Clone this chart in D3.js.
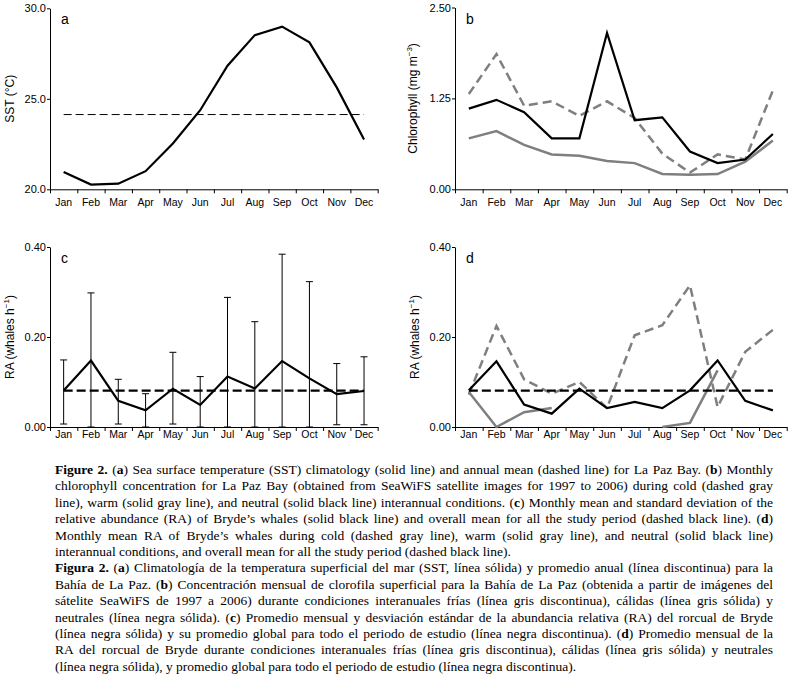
<!DOCTYPE html>
<html>
<head>
<meta charset="utf-8">
<script src="https://cdn.jsdelivr.net/npm/d3@7"></script>
<style>
  html, body { margin: 0; padding: 0; background: #fff; }
  svg { display: block; }
  .axis text { font-family: "Liberation Sans", Arial, sans-serif; fill: #000; }
  .axis path, .axis line { stroke: #000; stroke-width: 1; }
</style>
</head>
<body>
<svg id="chart" width="791" height="683"></svg>
<script>
// ---------------- data ----------------
const months = ["Jan","Feb","Mar","Apr","May","Jun","Jul","Aug","Sep","Oct","Nov","Dec"];

// (a) SST climatology (°C)
const sst = [20.96, 20.26, 20.31, 21.00, 22.53, 24.37, 26.83, 28.52, 28.99, 28.12, 25.63, 22.75];
const sstMean = 24.13;
const sstTicks = [20, 25, 30];

// (b) Chlorophyll (mg m-3)
const chlNeutral = [1.11, 1.23, 1.06, 0.70, 0.70, 2.15, 0.95, 0.99, 0.52, 0.36, 0.41, 0.76];
const chlCold    = [1.31, 1.86, 1.15, 1.21, 1.01, 1.21, 0.98, 0.49, 0.23, 0.48, 0.41, 1.36];
const chlWarm    = [0.70, 0.80, 0.61, 0.48, 0.46, 0.39, 0.36, 0.21, 0.20, 0.21, 0.38, 0.67];
const chlTicks = [0, 1.25, 2.5];

// (c) RA mean and SD range
const raMean  = [0.081, 0.1475, 0.058, 0.037, 0.085, 0.049, 0.112, 0.0855, 0.1465, 0.108, 0.073, 0.080];
const raUpper = [0.149, 0.298, 0.106, 0.074, 0.166, 0.112, 0.288, 0.234, 0.384, 0.323, 0.141, 0.156];
const raLower = [0.0066, 0, 0.0066, 0, 0.0066, 0, 0, 0, 0, 0, 0.005, 0.005];
const raOverall = 0.081;
const raTicks = [0, 0.2, 0.4];

// (d) RA by interannual condition
const raCold    = [0.072, 0.2245, 0.106, 0.074, 0.100, 0.042, 0.204, 0.226, 0.315, 0.0445, 0.167, 0.216];
const raWarm    = [0.078, 0.000, 0.033, 0.042, null, null, null, 0.000, 0.009, 0.126, null, null];
const raNeutral = [0.0815, 0.146, 0.0497, 0.0297, 0.0853, 0.042, 0.0556, 0.042, 0.0815, 0.148, 0.058, 0.037];

// caption lines (**bold**)
const captionEn = [
  "**Figure 2.** (**a**) Sea surface temperature (SST) climatology (solid line) and annual mean (dashed line) for La Paz Bay. (**b**) Monthly",
  "chlorophyll concentration for La Paz Bay (obtained from SeaWiFS satellite images for 1997 to 2006) during cold (dashed gray",
  "line), warm (solid gray line), and neutral (solid black line) interannual conditions. (**c**) Monthly mean and standard deviation of the",
  "relative abundance (RA) of Bryde’s whales (solid black line) and overall mean for all the study period (dashed black line). (**d**)",
  "Monthly mean RA of Bryde’s whales during cold (dashed gray line), warm (solid gray line), and neutral (solid black line)",
  "interannual conditions, and overall mean for all the study period (dashed black line)."
];
const captionEs = [
  "**Figura 2.** (**a**) Climatología de la temperatura superficial del mar (SST, línea sólida) y promedio anual (línea discontinua) para la",
  "Bahía de La Paz. (**b**) Concentración mensual de clorofila superficial para la Bahía de La Paz (obtenida a partir de imágenes del",
  "sátelite SeaWiFS de 1997 a 2006) durante condiciones interanuales frías (línea gris discontinua), cálidas (línea gris sólida) y",
  "neutrales (línea negra sólida). (**c**) Promedio mensual y desviación estándar de la abundancia relativa (RA) del rorcual de Bryde",
  "(línea negra sólida) y su promedio global para todo el periodo de estudio (línea negra discontinua). (**d**) Promedio mensual de la",
  "RA del rorcual de Bryde durante condiciones interanuales frías (línea gris discontinua), cálidas (línea gris sólida) y neutrales",
  "(línea negra sólida), y promedio global para todo el periodo de estudio (línea negra discontinua)."
];

// ---------------- drawing ----------------
const svg = d3.select("#chart");
svg.append("rect").attr("width", 791).attr("height", 683).attr("fill", "#fff");

const GRAY = "#7f7f7f";

function panel(opts) {
  const g = svg.append("g");
  const band = d3.scaleBand().domain(months).range([opts.x0, opts.x1]).padding(0);
  const lin = d3.scaleLinear().domain([0, 12]).range([opts.x0, opts.x1]);
  const y = d3.scaleLinear().domain(opts.domain).range([opts.yb, opts.yt]);
  const cx = m => band(m) + band.bandwidth() / 2;

  // x axis: boundary ticks
  g.append("g").attr("class", "axis").attr("transform", `translate(0,${opts.yb})`)
    .call(d3.axisBottom(lin).tickValues(d3.range(13)).tickSize(4).tickSizeOuter(0).tickFormat(""));
  // month labels
  const ml = g.append("g").attr("class", "axis").attr("transform", `translate(0,${opts.yb})`)
    .call(d3.axisBottom(band).tickSize(0).tickPadding(opts.labelPad));
  ml.select(".domain").remove();
  ml.selectAll("text").attr("font-size", 10.5);

  // y axis
  const ya = g.append("g").attr("class", "axis").attr("transform", `translate(${opts.x0},0)`)
    .call(d3.axisLeft(y).tickValues(opts.ticks).tickSize(3).tickSizeOuter(0).tickPadding(1)
      .tickFormat(d3.format(opts.fmt)));
  ya.selectAll("text").attr("font-size", 11);

  // panel letter
  g.append("text").attr("x", opts.x0 + 11).attr("y", opts.yt + 16)
    .attr("font-family", "Liberation Sans, Arial, sans-serif").attr("font-size", 14).text(opts.letter);

  // y title
  const t = g.append("text")
    .attr("transform", `translate(${opts.titleX},${(opts.yt + opts.yb) / 2}) rotate(-90)`)
    .attr("text-anchor", "middle")
    .attr("font-family", "Liberation Sans, Arial, sans-serif").attr("font-size", 12);
  t.append("tspan").text(opts.title);
  if (opts.sup) {
    t.append("tspan").attr("font-size", 8).attr("dy", -5).text(opts.sup);
    t.append("tspan").attr("dy", 5).text(")");
  }

  function line(vals, color, width, dash) {
    const gen = d3.line().defined(d => d.v !== null).x(d => cx(d.m)).y(d => y(d.v));
    g.append("path").datum(months.map((m, i) => ({ m, v: vals[i] })))
      .attr("d", gen).attr("fill", "none").attr("stroke", color)
      .attr("stroke-width", width).attr("stroke-linejoin", "miter")
      .attr("stroke-dasharray", dash || null);
  }
  function hline(v, width, dash) {
    g.append("line").attr("x1", cx(months[0])).attr("x2", cx(months[11]))
      .attr("y1", y(v)).attr("y2", y(v)).attr("stroke", "#000")
      .attr("stroke-width", width).attr("stroke-dasharray", dash);
  }
  return { g, cx, y, line, hline };
}

// (a)
const pa = panel({ x0: 50, x1: 377.7, yt: 8.3, yb: 189.3, domain: [20, 30], ticks: sstTicks, fmt: ".1f",
  letter: "a", title: "SST (°C)", titleX: 14, labelPad: 9 });
pa.hline(sstMean, 1, "8,4");
pa.line(sst, "#000", 2.2);

// (b)
const pb = panel({ x0: 455, x1: 786.7, yt: 7.5, yb: 189.3, domain: [0, 2.5], ticks: chlTicks, fmt: ".2f",
  letter: "b", title: "Chlorophyll (mg m", sup: "−3", titleX: 417, labelPad: 9 });
pb.line(chlWarm, GRAY, 2.5);
pb.line(chlCold, GRAY, 2.5, "9,5");
pb.line(chlNeutral, "#000", 2.2);

// (c)
const pc = panel({ x0: 50, x1: 377.7, yt: 247, yb: 427, domain: [0, 0.4], ticks: raTicks, fmt: ".2f",
  letter: "c", title: "RA (whales h", sup: "−1", titleX: 14, labelPad: 4 });
months.forEach((m, i) => {
  const x = pc.cx(m);
  pc.g.append("line").attr("x1", x).attr("x2", x).attr("y1", pc.y(raLower[i])).attr("y2", pc.y(raUpper[i]))
    .attr("stroke", "#000").attr("stroke-width", 1);
  [raLower[i], raUpper[i]].forEach(v => {
    pc.g.append("line").attr("x1", x - 3.5).attr("x2", x + 3.5).attr("y1", pc.y(v)).attr("y2", pc.y(v))
      .attr("stroke", "#000").attr("stroke-width", 1);
  });
});
pc.hline(raOverall, 2.2, "9,4");
pc.line(raMean, "#000", 2.2);

// (d)
const pd = panel({ x0: 455, x1: 786.7, yt: 247, yb: 427, domain: [0, 0.4], ticks: raTicks, fmt: ".2f",
  letter: "d", title: "RA (whales h", sup: "−1", titleX: 419, labelPad: 4 });
pd.line(raWarm, GRAY, 2.5);
pd.line(raCold, GRAY, 2.5, "9,5");
pd.hline(raOverall, 2.2, "9,4");
pd.line(raNeutral, "#000", 2.2);

// ---------------- caption ----------------
const capG = svg.append("g").attr("font-family", "Liberation Serif, 'Times New Roman', serif")
  .attr("font-size", 13.5).attr("fill", "#000");
const capX = 55, capW = 718, lineH = 16.4;
const allLines = captionEn.map((s, i) => ({ s, last: i === captionEn.length - 1 }))
  .concat(captionEs.map((s, i) => ({ s, last: i === captionEs.length - 1 })));
allLines.forEach((ln, i) => {
  const t = capG.append("text").attr("x", capX).attr("y", 474 + i * lineH).attr("xml:space", "preserve");
  ln.s.split("**").forEach((part, k) => {
    if (!part) return;
    t.append("tspan").attr("font-weight", k % 2 === 1 ? "bold" : null).text(part);
  });
  if (!ln.last) {
    const w = t.node().getComputedTextLength();
    const n = (ln.s.replace(/\*\*/g, "").match(/ /g) || []).length;
    if (n > 0) t.attr("word-spacing", (capW - w) / n);
  }
});
</script>
</body>
</html>
